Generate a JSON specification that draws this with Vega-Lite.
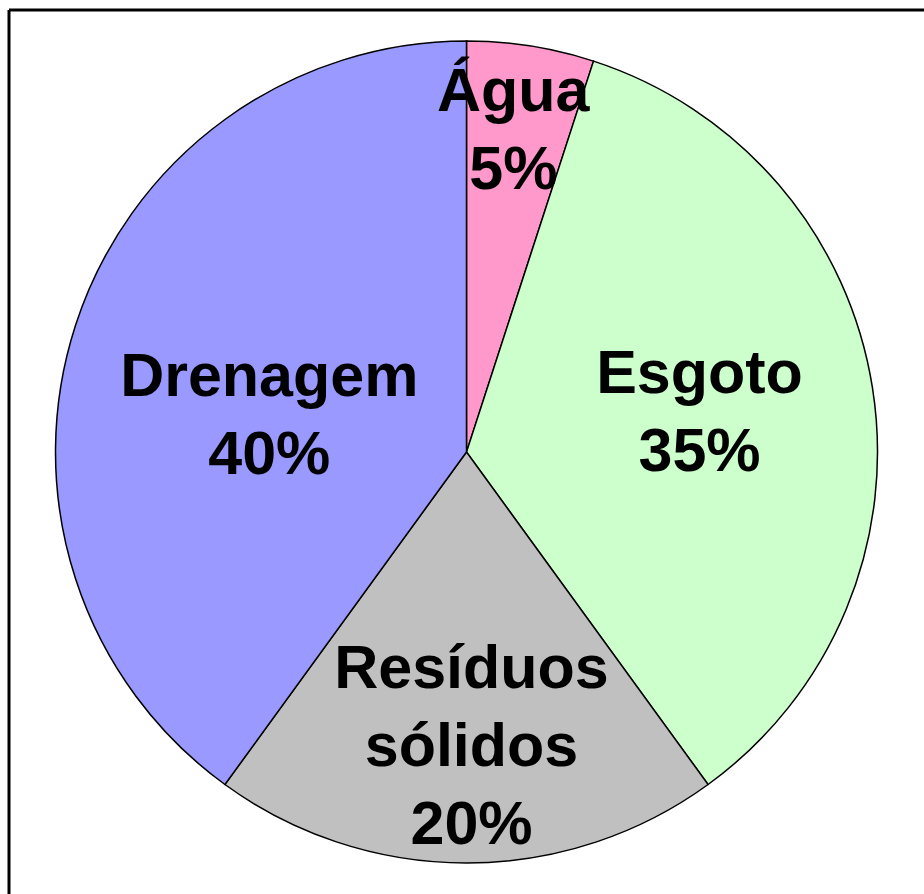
{
  "$schema": "https://vega.github.io/schema/vega-lite/v6.json",
  "width": 915,
  "height": 884,
  "autosize": {"type": "none"},
  "padding": {"left": 9, "top": 10, "right": 0, "bottom": 0},
  "background": "white",
  "view": {"stroke": "black", "strokeWidth": 3, "strokeDash": [915, 1799, 884, 0]},
  "config": {"text": {"font": "Liberation Sans", "fontWeight": "bold", "fontSize": 61, "lineHeight": 78, "lineBreak": " ", "align": "center", "baseline": "middle"}},
  "data": {"values": [
    {"ordem": 1, "categoria": "Água", "valor": 5},
    {"ordem": 2, "categoria": "Esgoto", "valor": 35},
    {"ordem": 3, "categoria": "Resíduos sólidos", "valor": 20},
    {"ordem": 4, "categoria": "Drenagem", "valor": 40}
  ]},
  "transform": [
    {"stack": "valor", "groupby": [], "sort": [{"field": "ordem"}], "as": ["v0", "v1"]},
    {"calculate": "(datum.v0 + datum.v1) / 2", "as": "meio"},
    {"calculate": "datum.categoria + ' ' + datum.valor + '%'", "as": "rotulo"}
  ],
  "layer": [
    {
      "mark": {"type": "arc", "radius": 411, "stroke": "black", "strokeWidth": 1.5},
      "encoding": {
        "theta": {"field": "v0", "type": "quantitative", "scale": {"domain": [0, 100]}},
        "theta2": {"field": "v1"},
        "color": {"field": "categoria", "type": "nominal", "legend": null,
          "scale": {"domain": ["Água", "Esgoto", "Resíduos sólidos", "Drenagem"], "range": ["#FF99CC", "#CCFFCC", "#C0C0C0", "#9999FF"]}}
      }
    },
    {
      "transform": [{"filter": "datum.categoria == 'Água'"}],
      "mark": {"type": "text", "radius": 363, "dx": -10},
      "encoding": {"theta": {"field": "meio", "type": "quantitative"}, "text": {"field": "rotulo"}}
    },
    {
      "transform": [{"filter": "datum.categoria == 'Esgoto'"}],
      "mark": {"type": "text", "radius": 241, "dx": -5, "dy": -39},
      "encoding": {"theta": {"field": "meio", "type": "quantitative"}, "text": {"field": "rotulo"}}
    },
    {
      "transform": [{"filter": "datum.categoria == 'Resíduos sólidos'"}],
      "mark": {"type": "text", "radius": 218, "dx": 5},
      "encoding": {"theta": {"field": "meio", "type": "quantitative"}, "text": {"field": "rotulo"}}
    },
    {
      "transform": [{"filter": "datum.categoria == 'Drenagem'"}],
      "mark": {"type": "text", "radius": 200, "dx": -7, "dy": -12},
      "encoding": {"theta": {"field": "meio", "type": "quantitative"}, "text": {"field": "rotulo"}}
    }
  ]
}
